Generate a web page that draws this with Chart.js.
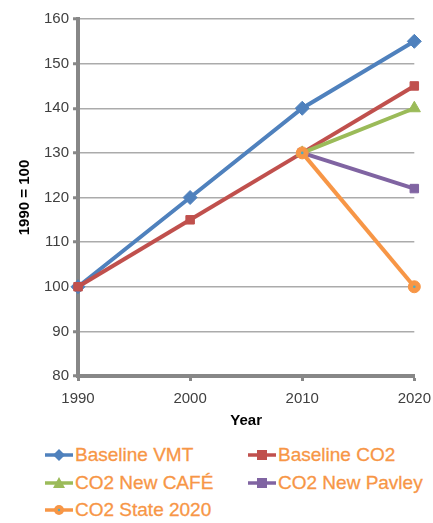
<!DOCTYPE html>
<html lang="en">
<head>
    <meta charset="UTF-8">
    <title>VMT and CO2</title>
    <script src="https://cdn.jsdelivr.net/npm/chart.js"></script>
    <style>
        html, body {
            margin: 0;
            padding: 0;
            width: 433px;
            height: 523px;
            background: #fff;
            font-family: "Liberation Sans", Arial, sans-serif;
            overflow: hidden;
        }
        #wrap {
            position: absolute;
            left: 0;
            top: 0;
            width: 433px;
            height: 434px;
        }
        #legend {
            position: absolute;
            left: 0;
            top: 441px;
            width: 433px;
        }
        .item {
            position: absolute;
            display: flex;
            align-items: center;
            font-size: 19px;
            color: #F79646;
            white-space: nowrap;
            -webkit-text-stroke: 0.3px #F79646;
        }
        .item svg { margin-right: 2px; }
    </style>
</head>
<body>
    <div id="wrap"><canvas id="chart"></canvas></div>
    <div id="legend"></div>

    <script>
        const years = ['1990', '2000', '2010', '2020'];
        const yTicks = [80, 90, 100, 110, 120, 130, 140, 150, 160];

        const baselineVMT = [100, 120, 140, 155];
        const baselineCO2 = [100, 115, 130, 145];
        const co2NewCafe = [null, null, 130, 140];
        const co2NewPavley = [null, null, 130, 122];
        const co2State2020 = [null, null, 130, 100];

        const series = [
            { label: 'Baseline VMT', data: baselineVMT, color: '#4F81BD', point: 'rectRot', r: 7 },
            { label: 'Baseline CO2', data: baselineCO2, color: '#C0504D', point: 'rect', r: 6 },
            { label: 'CO2 New CAFÉ', data: co2NewCafe, color: '#9BBB59', point: 'triangle', r: 7 },
            { label: 'CO2 New Pavley', data: co2NewPavley, color: '#8064A2', point: 'rect', r: 6 },
            { label: 'CO2 State 2020', data: co2State2020, color: '#F79646', point: 'circle', r: 6 }
        ];

        const axisGray = '#878787';
        const gridGray = '#ABABAB';
        const tickFont = { family: '"Liberation Sans", Arial, sans-serif', size: 15 };

        // small blue dot in the middle of the orange circles, as in the original
        const centerDots = {
            id: 'centerDots',
            afterDatasetsDraw(chart) {
                const meta = chart.getDatasetMeta(series.length - 1);
                const ctx = chart.ctx;
                ctx.save();
                ctx.fillStyle = '#4BACC6';
                meta.data.forEach(p => {
                    if (p.skip) return;
                    ctx.beginPath();
                    ctx.arc(p.x, p.y, 1.3, 0, Math.PI * 2);
                    ctx.fill();
                });
                ctx.restore();
            }
        };

        new Chart(document.getElementById('chart'), {
            type: 'line',
            data: {
                labels: years,
                datasets: series.map((s, i) => ({
                    label: s.label,
                    data: s.data,
                    borderColor: s.color,
                    backgroundColor: s.color,
                    borderWidth: 4,
                    pointStyle: s.point,
                    pointRadius: s.r,
                    pointHoverRadius: s.r,
                    pointBorderWidth: 1,
                    tension: 0,
                    order: series.length - i
                }))
            },
            options: {
                responsive: true,
                maintainAspectRatio: false,
                animation: false,
                layout: { padding: { left: 12, right: 4, top: 19, bottom: 0 } },
                plugins: {
                    legend: { display: false },
                    tooltip: { enabled: false }
                },
                scales: {
                    x: {
                        offset: false,
                        // tick padding also widens the side padding; take that back
                        afterFit: axis => { axis.paddingRight = Math.max(axis.paddingRight - 7, 0); },
                        grid: { color: 'rgba(0,0,0,0)', tickColor: axisGray, tickWidth: 3, tickLength: 5 },
                        border: { color: axisGray, width: 4 },
                        ticks: { color: '#404040', font: tickFont, padding: 9, maxRotation: 0 },
                        title: { display: true, text: 'Year', color: '#000', font: { family: tickFont.family, size: 15, weight: 'bold' }, padding: { top: -5 } }
                    },
                    y: {
                        min: 80,
                        max: 160,
                        afterBuildTicks: axis => { axis.ticks = yTicks.map(v => ({ value: v })); },
                        grid: { color: gridGray, lineWidth: 1.5, tickColor: axisGray, tickWidth: 3, tickLength: 5 },
                        border: { color: axisGray, width: 4 },
                        ticks: { color: '#404040', font: tickFont, padding: 4 },
                        title: { display: true, text: '1990 = 100', color: '#000', font: { family: tickFont.family, size: 15, weight: 'bold' }, padding: { bottom: 6 } }
                    }
                }
            },
            plugins: [centerDots]
        });

        // legend in two columns like the original
        function markerSvg(s) {
            let shape = '';
            const c = s.color;
            if (s.point === 'rectRot') shape = `<polygon points="14,1 20,7 14,13 8,7" fill="${c}"/>`;
            else if (s.point === 'rect') shape = `<rect x="9" y="2" width="10" height="10" fill="${c}"/>`;
            else if (s.point === 'triangle') shape = `<polygon points="14,1 20,12 8,12" fill="${c}"/>`;
            else shape = `<circle cx="14" cy="7" r="5" fill="${c}"/><circle cx="14" cy="7" r="1.2" fill="#4BACC6"/>`;
            return `<svg width="28" height="14" viewBox="0 0 28 14"><line x1="0" y1="7" x2="28" y2="7" stroke="${c}" stroke-width="3.5"/>${shape}</svg>`;
        }

        const legendPos = [[45, 3], [248, 3], [45, 31], [248, 31], [45, 58]];
        const legend = document.getElementById('legend');
        series.forEach((s, i) => {
            const el = document.createElement('div');
            el.className = 'item';
            el.style.left = legendPos[i][0] + 'px';
            el.style.top = legendPos[i][1] + 'px';
            el.innerHTML = markerSvg(s) + '<span>' + s.label + '</span>';
            legend.appendChild(el);
        });
    </script>
</body>
</html>
